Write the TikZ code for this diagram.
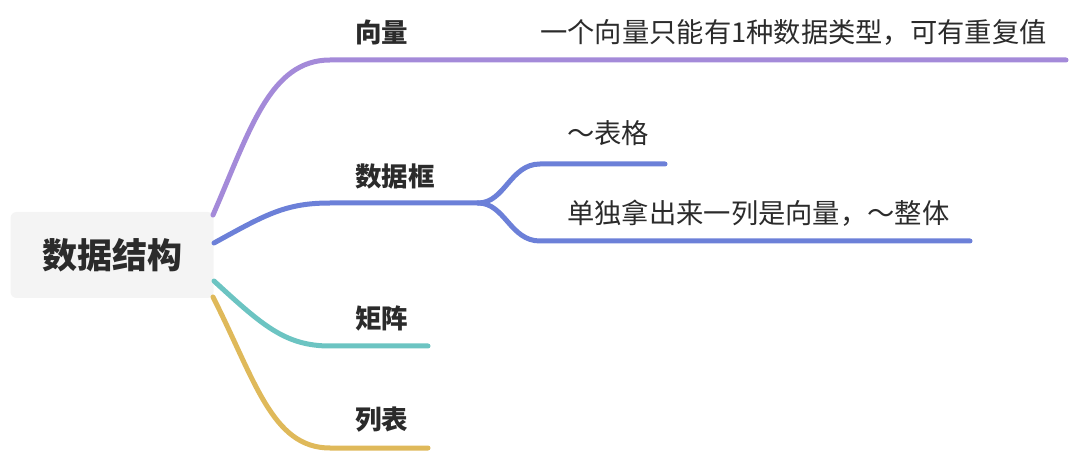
\documentclass[tikz,border=0pt]{standalone}
\usepackage{fontspec}
\setmainfont{Noto Sans CJK SC}
\begin{document}
\begin{tikzpicture}[x=1pt,y=-1pt,
  lbl/.style={anchor=west,inner sep=0pt,text=txt,font=\fontsize{26.5}{30}\selectfont\bfseries},
  sub/.style={anchor=west,inner sep=0pt,text=txt,font=\fontsize{27.3}{31}\selectfont},
  br/.style={line width=5pt,line cap=round}]
\definecolor{txt}{HTML}{2B2B2B}
\definecolor{cpur}{HTML}{A48AD9}
\definecolor{cblu}{HTML}{6C80D8}
\definecolor{ctea}{HTML}{6CC4C2}
\definecolor{cyel}{HTML}{DFB95A}
\definecolor{rootbg}{HTML}{F4F4F4}
\useasboundingbox (0,0) rectangle (1074,454);
\node[fill=rootbg,rounded corners=6pt,minimum width=203pt,minimum height=86pt,
  text=txt,font=\fontsize{35}{40}\selectfont\bfseries] (root) at (112,255) {数据结构};
% labels
\node[lbl] (vec) at (355,32) {向量};
\node[sub] (vecd) at (540,32) {一个向量只能有1种数据类型，可有重复值};
\node[lbl] (df) at (355,176) {数据框};
\node[sub] (dfa) at (567,133) {～表格};
\node[sub] (dfb) at (567,213) {单独拿出来一列是向量，～整体};
\node[lbl] (mat) at (355,318) {矩阵};
\node[lbl] (lst) at (355,420) {列表};
% coordinates
\coordinate (s1) at (213,215);
\coordinate (s2) at (214,243);
\coordinate (s3) at (214,281);
\coordinate (s4) at (213,297);
\coordinate (e1) at (1066,60);
\coordinate (j2) at (478,203);
\coordinate (e2a) at (665,164);
\coordinate (e2b) at (970,241);
\coordinate (e3) at (428,346);
\coordinate (e4) at (428,448);
% branches
\draw[br,cpur] (s1) .. controls (250,130) and (270,60) .. (330,60) -- (e1);
\draw[br,cblu] (s2) .. controls (265,215) and (285,203) .. (330,203) -- (j2);
\draw[br,cblu] (j2) .. controls (505,203) and (510,164) .. (540,164) -- (e2a);
\draw[br,cblu] (j2) .. controls (505,203) and (510,241) .. (540,241) -- (e2b);
\draw[br,ctea] (s3) .. controls (262,325) and (285,346) .. (330,346) -- (e3);
\draw[br,cyel] (s4) .. controls (255,380) and (272,448) .. (330,448) -- (e4);
\end{tikzpicture}
\end{document}
